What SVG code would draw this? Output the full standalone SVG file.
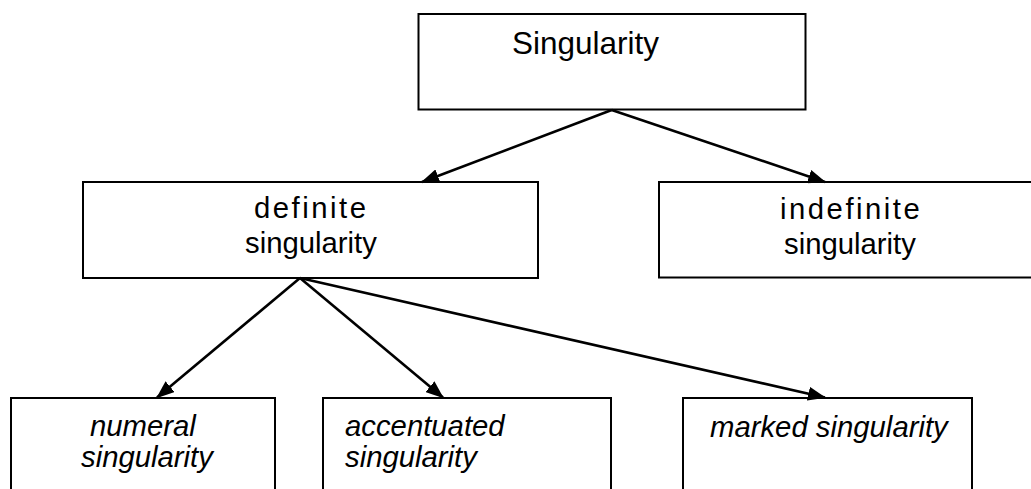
<svg xmlns="http://www.w3.org/2000/svg" width="1031" height="489" viewBox="0 0 1031 489">
<style>
.box{fill:#fff;stroke:#000;stroke-width:2}
.t{font-family:"Liberation Sans",Arial,sans-serif;font-size:29.3px;fill:#000}
.sp{letter-spacing:2.5px}
.it{font-style:italic}
.edge{stroke:#000;stroke-width:2.6;fill:none;marker-end:url(#arr)}
</style>
<defs>
<marker id="arr" markerUnits="userSpaceOnUse" markerWidth="18" markerHeight="14" viewBox="0 0 18 14" refX="17" refY="7" orient="auto">
<path d="M0,0 L18,7 L0,14 Z" fill="#000"/>
</marker>
</defs>
<rect width="1031" height="489" fill="#fff"/>
<g id="n-singularity">
<rect class="box" x="418.5" y="14" width="387" height="95.5"/>
<text class="t" x="512" y="54" style="font-size:31.5px">Singularity</text>
</g>
<g id="n-definite">
<rect class="box" x="83" y="182" width="455" height="96"/>
<text class="t sp" x="254" y="218">definite</text>
<text class="t" x="245" y="253">singularity</text>
</g>
<g id="n-indefinite">
<rect class="box" x="659" y="182" width="380" height="95.5"/>
<text class="t sp" x="780" y="219">indefinite</text>
<text class="t" x="784" y="254">singularity</text>
</g>
<g id="n-numeral">
<rect class="box" x="11" y="398" width="264" height="110"/>
<text class="t it" x="90" y="436">numeral</text>
<text class="t it" x="81" y="467">singularity</text>
</g>
<g id="n-accentuated">
<rect class="box" x="323" y="398" width="288" height="110"/>
<text class="t it" x="345" y="436">accentuated</text>
<text class="t it" x="345" y="467">singularity</text>
</g>
<g id="n-marked">
<rect class="box" x="683" y="398" width="289" height="110"/>
<text class="t it" x="710" y="437">marked singularity</text>
</g>
<g id="connectors">
<line class="edge" x1="611.7" y1="110" x2="422" y2="182"/>
<line class="edge" x1="611.7" y1="110" x2="825" y2="182"/>
<line class="edge" x1="300" y1="278" x2="157" y2="397.5"/>
<line class="edge" x1="300" y1="278" x2="443" y2="397.5"/>
<line class="edge" x1="300" y1="278" x2="825" y2="397.5"/>
</g>
</svg>
